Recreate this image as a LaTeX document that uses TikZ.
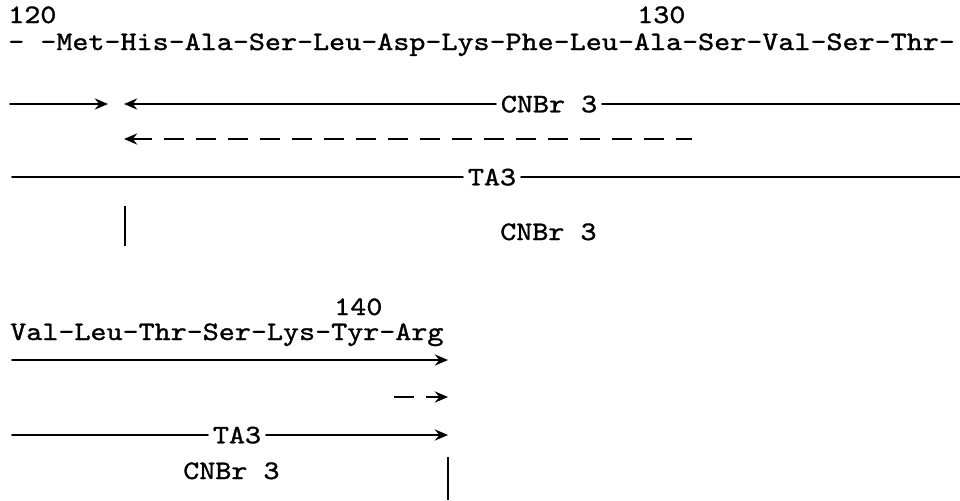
\documentclass[tikz,border=0pt]{standalone}
\usepackage{fontspec}
\newfontfamily\seqfont{lmmono10-regular}[Extension=.otf,FakeStretch=1.146,FakeBold=1.2]
\usetikzlibrary{arrows.meta}
\begin{document}
\begin{tikzpicture}[x=0.75pt,y=0.75pt,yscale=-1,xscale=1,
  seqtext/.style={anchor=base west,inner sep=0pt,font=\seqfont\fontsize{20}{24}\selectfont},
  linelabel/.style={inner xsep=3.5pt,inner ysep=0pt,text depth=0pt,font=\seqfont\fontsize{20}{24}\selectfont},
  fragline/.style={line width=1.3pt,line cap=round},
  fragarrow/.style={fragline,-{Stealth[length=10pt,width=8.5pt,inset=3.5pt]}},
  fragback/.style={fragline,{Stealth[length=10pt,width=8.5pt,inset=3.5pt]}-},
  fragdash/.style={dash pattern=on 15pt off 9pt},
  cutbar/.style={line width=1.6pt}]
\useasboundingbox (0,0) rectangle (960,500);

% Text Node
\node [seqtext] (n120) at (8,23) {120};
% Text Node
\node [seqtext] (n130) at (637,23) {130};
% Text Node
\node [seqtext] (seqA) at (8,50) {- -Met-His-Ala-Ser-Leu-Asp-Lys-Phe-Leu-Ala-Ser-Val-Ser-Thr-};

%Straight Lines
\coordinate (a1) at (10,104);
\coordinate (a2) at (108,104);
\draw [fragarrow] (a1) -- (a2);
%Straight Lines
\coordinate (b1) at (124,104);
\coordinate (b2) at (960,104);
\node [linelabel] (cnbrA) at (549,104) {CNBr 3};
\draw [fragback] (b1) -- (cnbrA.west);
\draw [fragline] (cnbrA.east) -- (b2);
%Straight Lines
\coordinate (c1) at (124,139);
\coordinate (c2) at (692,139);
\draw [fragback,fragdash,line cap=butt] (c1) -- (c2);
%Straight Lines
\coordinate (d1) at (12,177);
\coordinate (d2) at (960,177);
\node [linelabel] (taA) at (492,177) {TA3};
\draw [fragline] (d1) -- (taA.west);
\draw [fragline] (taA.east) -- (d2);
%Straight Lines
\coordinate (e1) at (125,206);
\coordinate (e2) at (125,246);
\draw [cutbar] (e1) -- (e2);
% Text Node
\node [seqtext] (cnbrB) at (500,240) {CNBr 3};

% Text Node
\node [seqtext] (n140) at (334,315) {140};
% Text Node
\node [seqtext] (seqB) at (10,340) {Val-Leu-Thr-Ser-Lys-Tyr-Arg};

%Straight Lines
\coordinate (f1) at (12,360);
\coordinate (f2) at (448,360);
\draw [fragarrow] (f1) -- (f2);
%Straight Lines
\coordinate (g1) at (394,397);
\coordinate (g2) at (448,397);
\draw [fragarrow,fragdash,line cap=butt] (g1) -- (g2);
%Straight Lines
\coordinate (h1) at (12,435);
\coordinate (h2) at (448,435);
\node [linelabel] (taB) at (237,435) {TA3};
\draw [fragline] (h1) -- (taB.west);
\draw [fragarrow] (taB.east) -- (h2);
%Straight Lines
\coordinate (k1) at (448,457);
\coordinate (k2) at (448,500);
\draw [cutbar] (k1) -- (k2);
% Text Node
\node [seqtext] (cnbrC) at (183,479) {CNBr 3};
\end{tikzpicture}
\end{document}
